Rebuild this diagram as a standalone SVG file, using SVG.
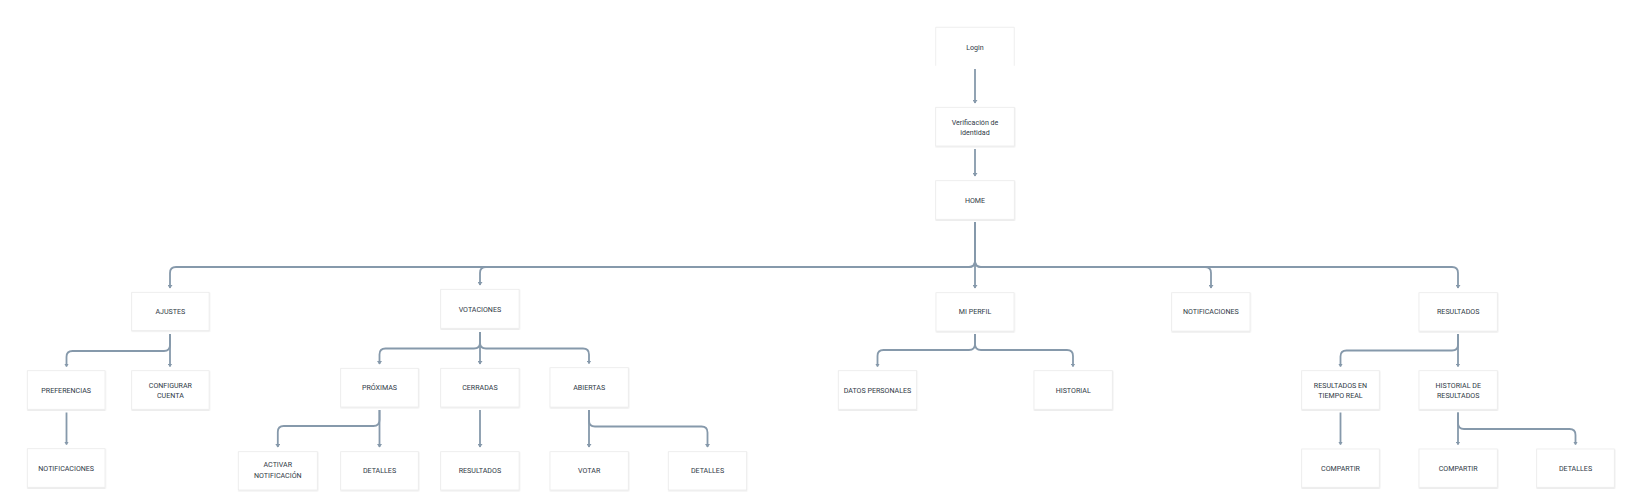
<svg xmlns="http://www.w3.org/2000/svg" width="1642" height="501" viewBox="0 0 1642 501">
<style>
.box{fill:#ffffff;stroke:#ebebeb;stroke-width:0.8;filter:url(#sh)}
.t{font-family:Roboto,"Liberation Sans",sans-serif;font-size:7.1px;font-weight:400;fill:#2f3a46;text-anchor:middle;dominant-baseline:central}
.c{fill:none;stroke:#8699ab;stroke-width:1.8;marker-end:url(#ah)}
</style>
<defs>
<filter id="sh" x="-10%" y="-10%" width="120%" height="130%">
<feDropShadow dx="0.3" dy="0.7" stdDeviation="0.4" flood-color="#000" flood-opacity="0.13"/>
</filter>
<marker id="ah" markerUnits="userSpaceOnUse" markerWidth="5" markerHeight="5" refX="3" refY="2.5" orient="auto">
<path d="M0,0 L3.5,2.5 L0,5 z" fill="#8699ab"/>
</marker>
</defs>
<rect width="1642" height="501" fill="#ffffff"/>
<g id="connectors">
<path class="c" d="M975,69 V103"/>
<path class="c" d="M975,149 V176"/>
<path class="c" d="M975,222 V261 Q975,267 969,267 H176 Q170,267 170,273 V288"/>
<path class="c" d="M975,222 V261 Q975,267 969,267 H486 Q480,267 480,273 V285"/>
<path class="c" d="M975,222 V288"/>
<path class="c" d="M975,222 V261 Q975,267 981,267 H1205 Q1211,267 1211,273 V288"/>
<path class="c" d="M975,222 V261 Q975,267 981,267 H1452 Q1458,267 1458,273 V288"/>
<path class="c" d="M170,334 V345 Q170,351 164,351 H72.5 Q66.5,351 66.5,357 V366.5"/>
<path class="c" d="M170,334 V366.5"/>
<path class="c" d="M66.5,412.5 V444.5"/>
<path class="c" d="M480,332 V342.5 Q480,348.5 474,348.5 H385.5 Q379.5,348.5 379.5,354.5 V364"/>
<path class="c" d="M480,332 V364"/>
<path class="c" d="M480,332 V342.5 Q480,348.5 486,348.5 H583 Q589,348.5 589,354.5 V363.5"/>
<path class="c" d="M379.5,410 V420 Q379.5,426 373.5,426 H283.8 Q277.8,426 277.8,432 V447"/>
<path class="c" d="M379.5,410 V447"/>
<path class="c" d="M480,410 V447"/>
<path class="c" d="M589,410 V447"/>
<path class="c" d="M589,410 V420.5 Q589,426.5 595,426.5 H701.5 Q707.5,426.5 707.5,432.5 V447"/>
<path class="c" d="M975,334 V344 Q975,350 969,350 H883.5 Q877.5,350 877.5,356 V366.5"/>
<path class="c" d="M975,334 V344 Q975,350 981,350 H1067 Q1073,350 1073,356 V366.5"/>
<path class="c" d="M1458,334 V344.5 Q1458,350.5 1452,350.5 H1346.5 Q1340.5,350.5 1340.5,356.5 V366.5"/>
<path class="c" d="M1458,334 V366.5"/>
<path class="c" d="M1340.5,412.5 V444.5"/>
<path class="c" d="M1458,412.5 V444.5"/>
<path class="c" d="M1458,412.5 V423 Q1458,429 1464,429 H1569.5 Q1575.5,429 1575.5,435 V444.5"/>
</g>
<g id="login">
<rect x="935.7" y="27.3" width="78.6" height="38.5" fill="#ffffff"/>
<path d="M935.7,65.8 V27.3 H1014.3 V65.8" fill="none" stroke="#ebebeb" stroke-width="0.8"/>
<text class="t" x="975" y="47">Login</text>
</g>
<g id="verificacion">
<rect class="box" x="935.7" y="107.3" width="78.6" height="38.7"/>
<text class="t" x="975" y="122">Verificación de</text>
<text class="t" x="975" y="132.3">identidad</text>
</g>
<g id="home">
<rect class="box" x="935.7" y="180.7" width="78.6" height="38.6"/>
<text class="t" x="975" y="200">HOME</text>
</g>
<g id="ajustes">
<rect class="box" x="131.7" y="292.3" width="77.4" height="38.4"/>
<text class="t" x="170.4" y="311.6">AJUSTES</text>
</g>
<g id="votaciones">
<rect class="box" x="440.7" y="289.3" width="78.4" height="39"/>
<text class="t" x="479.9" y="309.3">VOTACIONES</text>
</g>
<g id="miperfil">
<rect class="box" x="936" y="292.7" width="78" height="38.4"/>
<text class="t" x="975" y="311.8">MI PERFIL</text>
</g>
<g id="notificaciones-top">
<rect class="box" x="1171.7" y="292.7" width="78.3" height="38.4"/>
<text class="t" x="1210.8" y="311.8">NOTIFICACIONES</text>
</g>
<g id="resultados-top">
<rect class="box" x="1419" y="292.7" width="78.3" height="38.4"/>
<text class="t" x="1458.2" y="311.8">RESULTADOS</text>
</g>
<g id="preferencias">
<rect class="box" x="27.3" y="370.7" width="77.7" height="38.6"/>
<text class="t" x="66.2" y="390">PREFERENCIAS</text>
</g>
<g id="configurar">
<rect class="box" x="131.7" y="370.7" width="77.4" height="38.6"/>
<text class="t" x="170.4" y="385.2">CONFIGURAR</text>
<text class="t" x="170.4" y="395">CUENTA</text>
</g>
<g id="proximas">
<rect class="box" x="340.7" y="368.3" width="77.6" height="38.7"/>
<text class="t" x="379.5" y="387.5">PRÓXIMAS</text>
</g>
<g id="cerradas">
<rect class="box" x="440.7" y="368.3" width="78.4" height="38.7"/>
<text class="t" x="479.9" y="387.5">CERRADAS</text>
</g>
<g id="abiertas">
<rect class="box" x="550" y="367.7" width="78.3" height="39.4"/>
<text class="t" x="589.2" y="387.4">ABIERTAS</text>
</g>
<g id="datospersonales">
<rect class="box" x="838.3" y="370.7" width="78.4" height="38.6"/>
<text class="t" x="877.5" y="390">DATOS PERSONALES</text>
</g>
<g id="historial">
<rect class="box" x="1034" y="370.7" width="78.3" height="38.6"/>
<text class="t" x="1073.2" y="390">HISTORIAL</text>
</g>
<g id="resultadostiemporeal">
<rect class="box" x="1301.7" y="370.7" width="77.6" height="38.6"/>
<text class="t" x="1340.5" y="385.2">RESULTADOS EN</text>
<text class="t" x="1340.5" y="395.5">TIEMPO REAL</text>
</g>
<g id="historialresultados">
<rect class="box" x="1419" y="370.7" width="78.3" height="38.6"/>
<text class="t" x="1458.2" y="385.2">HISTORIAL DE</text>
<text class="t" x="1458.2" y="395.4">RESULTADOS</text>
</g>
<g id="notificaciones-pref">
<rect class="box" x="27.3" y="448.7" width="77.7" height="38.6"/>
<text class="t" x="66.2" y="468">NOTIFICACIONES</text>
</g>
<g id="activarnotificacion">
<rect class="box" x="238.3" y="451.7" width="79" height="38.3"/>
<text class="t" x="277.8" y="464.4">ACTIVAR</text>
<text class="t" x="277.8" y="475">NOTIFICACIÓN</text>
</g>
<g id="detalles-proximas">
<rect class="box" x="340.7" y="451.7" width="77.6" height="38.3"/>
<text class="t" x="379.5" y="470.8">DETALLES</text>
</g>
<g id="resultados-cerradas">
<rect class="box" x="440.7" y="451.7" width="78.4" height="38.3"/>
<text class="t" x="479.9" y="470.8">RESULTADOS</text>
</g>
<g id="votar">
<rect class="box" x="550" y="451.7" width="78.3" height="38.3"/>
<text class="t" x="589.2" y="470.8">VOTAR</text>
</g>
<g id="detalles-abiertas">
<rect class="box" x="668.3" y="451.7" width="78.4" height="38.3"/>
<text class="t" x="707.5" y="470.8">DETALLES</text>
</g>
<g id="compartir-rtr">
<rect class="box" x="1301.7" y="449" width="77.6" height="38.3"/>
<text class="t" x="1340.5" y="468.2">COMPARTIR</text>
</g>
<g id="compartir-hdr">
<rect class="box" x="1419" y="449" width="78.3" height="38.3"/>
<text class="t" x="1458.2" y="468.2">COMPARTIR</text>
</g>
<g id="detalles-hdr">
<rect class="box" x="1536.7" y="449" width="77.6" height="38.3"/>
<text class="t" x="1575.5" y="468.2">DETALLES</text>
</g>
</svg>
